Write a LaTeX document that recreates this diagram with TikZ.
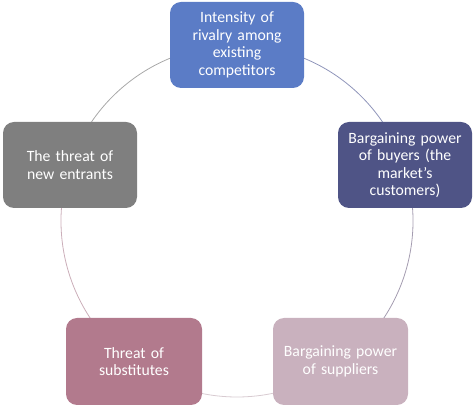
\documentclass[tikz,border=0pt]{standalone}
\usepackage{fontspec}
\setmainfont{Carlito}
\definecolor{cTop}{HTML}{5B7CC6}
\definecolor{cRight}{HTML}{4F5486}
\definecolor{cLeft}{HTML}{7F7F7F}
\definecolor{cBL}{HTML}{B27A8D}
\definecolor{cBR}{HTML}{C9B1BE}
\definecolor{aTR}{HTML}{8F95BA}
\definecolor{aRB}{HTML}{A49CB0}
\definecolor{aB}{HTML}{D8CBD1}
\definecolor{aBL}{HTML}{CBAEB9}
\definecolor{aL}{HTML}{A8A8A8}
\begin{document}
\begin{tikzpicture}[x=1pt,y=1pt,
  box/.style={rectangle, rounded corners=11pt, minimum width=134pt, minimum height=86pt,
    text width=130pt, align=center, text=white, inner sep=0pt,
    font=\fontsize{15.7}{17.5}\selectfont},
  arcline/.style={line width=0.8pt}]
\useasboundingbox (0,0) rectangle (474,412);
\coordinate (c) at (237,191);
\draw[arcline, aTR] ([shift={(90:176)}]c) arc[start angle=90, end angle=18, radius=176];
\draw[arcline, aRB] ([shift={(18:176)}]c) arc[start angle=18, end angle=-54, radius=176];
\draw[arcline, aB] ([shift={(-54:176)}]c) arc[start angle=-54, end angle=-126, radius=176];
\draw[arcline, aBL] ([shift={(-126:176)}]c) arc[start angle=-126, end angle=-198, radius=176];
\draw[arcline, aL] ([shift={(162:176)}]c) arc[start angle=162, end angle=90, radius=176];
\node[box, fill=cTop] (top) at (237,367) {Intensity of\\rivalry among\\existing\\competitors};
\node[box, fill=cRight] (right) at (405,247) {Bargaining power\\of buyers (the\\market's\\customers)};
\node[box, fill=cBR, minimum width=135pt, minimum height=87pt] (br) at (340.5,50.5) {Bargaining power\\of suppliers};
\node[box, fill=cBL, minimum width=136pt, minimum height=87pt] (bl) at (134,50.5) {Threat of\\substitutes};
\node[box, fill=cLeft] (left) at (70,247) {The threat of\\new entrants};
\end{tikzpicture}
\end{document}
